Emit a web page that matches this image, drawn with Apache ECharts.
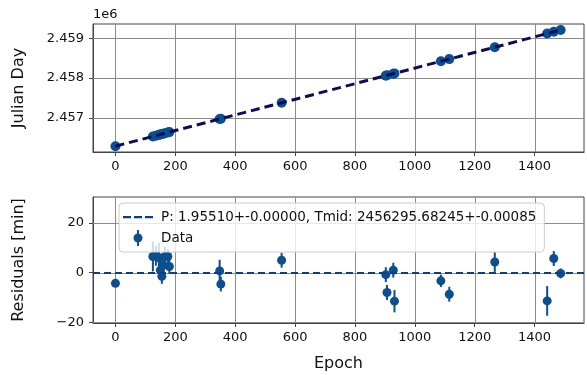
<!DOCTYPE html>
<html><head><meta charset="utf-8">
<script src="https://cdn.jsdelivr.net/npm/echarts@6/dist/echarts.min.js"></script>
<style>html,body{margin:0;padding:0;background:#fff}#c{width:587px;height:375px}</style>
</head><body><div id="c"></div>
<script>
// ---- data ----
const epochs = [0, 125, 135, 145, 150, 155, 160, 165, 175, 180, 348, 352, 555, 903, 907, 928, 932, 1087, 1115, 1267, 1442, 1464, 1487];
const julianDays = [2456295.68, 2456540.07, 2456559.62, 2456579.17, 2456588.95, 2456598.72, 2456608.50, 2456618.27, 2456637.82, 2456647.60,
  2456976.05, 2456983.88, 2457380.76, 2458061.14, 2458068.96, 2458110.01, 2458117.83, 2458420.87, 2458475.62, 2458772.79,
  2459114.93, 2459157.95, 2459202.91];
const residuals = [-4.3, 6.5, 6.8, 6.0, 1.0, -1.5, 3.0, 6.5, 6.5, 2.5, 0.7, -4.6, 5.0, -0.8, -8.0, 1.0, -11.5, -3.3, -8.7, 4.3, -11.4, 5.7, -0.3];
const resErrors = [1.5, 6, 4, 6, 4, 3, 3, 4, 3, 3, 4.5, 3, 3, 3, 3, 3, 4.5, 2.5, 3, 4, 6, 3, 2];
const fitEpochs = [0, 1487];
const fitJD = [2456295.68, 2459202.91];
const xTicks = [0, 200, 400, 600, 800, 1000, 1200, 1400];
const jdTicks = [2457000, 2458000, 2459000];
const resTicks = [-20, 0, 20];
const fitLabel = 'P: 1.95510+-0.00000, Tmid: 2456295.68245+-0.00085';
const dataLabel = 'Data';

const FONT = 'DejaVu Sans';
const MARK = '#0b4f8f';
const ZLINE = '#0a3d8a';
const frame = '#444';
const gridC = '#8c8c8c';
const GRIDS = [
  {left: 93, top: 24, width: 491, height: 128},
  {left: 93, top: 197, width: 491, height: 126}
];
const X_RANGE = [-75, 1565];
const Y_RANGES = [[2456150, 2459354], [-20.3, 30.5]];

function xAxisCfg(gi) {
  return {
    type: 'value', gridIndex: gi, min: X_RANGE[0], max: X_RANGE[1],
    axisLine: {show: true, onZero: false, lineStyle: {color: frame}},
    axisTick: {show: true, length: 4, lineStyle: {color: frame}, customValues: xTicks},
    axisLabel: {color: '#111', fontFamily: FONT, fontSize: 13, margin: 8, customValues: xTicks,
      formatter: v => String(v)},
    splitLine: {show: false}
  };
}
const titleText = {id: 'offset', type: 'text', left: 93, top: 8,
  style: {text: '1e6', fontFamily: FONT, fontSize: 13, fill: '#111'}};

const chart = echarts.init(document.getElementById('c'), null, {renderer: 'canvas'});
const option = {
  animation: false,
  textStyle: {fontFamily: FONT},
  grid: GRIDS.map(g => Object.assign({show: true, borderColor: frame, borderWidth: 1, backgroundColor: 'transparent'}, g)),
  xAxis: [
    xAxisCfg(0),
    Object.assign(xAxisCfg(1), {name: 'Epoch', nameLocation: 'middle', nameGap: 33,
      nameTextStyle: {fontFamily: FONT, fontSize: 16, color: '#111'}})
  ],
  yAxis: [
    {
      type: 'value', gridIndex: 0, min: Y_RANGES[0][0], max: Y_RANGES[0][1],
      name: 'Julian Day', nameLocation: 'middle', nameGap: 66, nameRotate: 90,
      nameTextStyle: {fontFamily: FONT, fontSize: 16, color: '#111'},
      axisLine: {show: true, onZero: false, lineStyle: {color: frame}},
      axisTick: {show: true, length: 4, lineStyle: {color: frame}, customValues: jdTicks},
      axisLabel: {color: '#111', fontFamily: FONT, fontSize: 13, margin: 9, customValues: jdTicks,
        formatter: v => (v / 1e6).toFixed(3)},
      splitLine: {show: false}
    },
    {
      type: 'value', gridIndex: 1, min: Y_RANGES[1][0], max: Y_RANGES[1][1],
      name: 'Residuals [min]', nameLocation: 'middle', nameGap: 66, nameRotate: 90,
      nameTextStyle: {fontFamily: FONT, fontSize: 16, color: '#111'},
      axisLine: {show: true, onZero: false, lineStyle: {color: frame}},
      axisTick: {show: true, length: 4, lineStyle: {color: frame}, customValues: resTicks},
      axisLabel: {color: '#111', fontFamily: FONT, fontSize: 13, margin: 9, customValues: resTicks,
        formatter: v => (v < 0 ? '\u2212' + Math.abs(v) : String(v))},
      splitLine: {show: false}
    }
  ],
  graphic: [titleText],
  legend: {
    left: 119, top: 203, orient: 'vertical', z: 20,
    backgroundColor: 'rgba(255,255,255,0.8)', borderColor: '#cccccc', borderWidth: 1, borderRadius: 4,
    padding: [6, 8, 6, 4], itemGap: 5, itemWidth: 30, itemHeight: 16,
    textStyle: {fontFamily: FONT, fontSize: 13.5, color: '#111', padding: [0, 0, 0, 3]},
    data: [
      {name: fitLabel,
        icon: 'path://M0,0L0.01,0L0.01,0.01Z M29.99,16L30,16L30,15.99Z M0,7h8v2.2h-8z M11,7h8v2.2h-8z M22,7h8v2.2h-8z',
        itemStyle: {color: ZLINE}},
      {name: dataLabel,
        icon: 'path://M0,8L0.01,8L0.01,8.01Z M29.99,8L30,8L30,8.01Z M14,0h2v16h-2z M10.5,8A4.5,4.5 0 1,1 19.5,8A4.5,4.5 0 1,1 10.5,8Z',
        itemStyle: {color: MARK}}
    ]
  },
  series: [
    {
      type: 'scatter', xAxisIndex: 0, yAxisIndex: 0, symbolSize: 10, z: 2,
      itemStyle: {color: MARK, opacity: 1},
      data: epochs.map((e, i) => [e, julianDays[i]])
    },
    {
      type: 'line', xAxisIndex: 0, yAxisIndex: 0, symbol: 'none', z: 3,
      lineStyle: {color: '#0c0c5c', width: 3, type: [9, 5]},
      data: fitEpochs.map((e, i) => [e, fitJD[i]])
    },
    {
      name: fitLabel, type: 'line', xAxisIndex: 1, yAxisIndex: 1, symbol: 'none', z: 2,
      lineStyle: {color: ZLINE, width: 2, type: [7, 4]},
      itemStyle: {color: ZLINE},
      data: [],
      markLine: {silent: true, symbol: 'none', label: {show: false},
        lineStyle: {color: ZLINE, width: 2, type: [7, 4]},
        data: [{yAxis: 0}]}
    },
    {
      name: dataLabel, type: 'custom', xAxisIndex: 1, yAxisIndex: 1, z: 3,
      itemStyle: {color: MARK},
      data: epochs.map((e, i) => [e, residuals[i], resErrors[i]]),
      renderItem: function (params, api) {
        const x = api.value(0), y = api.value(1), err = api.value(2);
        const p = api.coord([x, y]);
        const top = api.coord([x, y + err]);
        const bot = api.coord([x, y - err]);
        return {
          type: 'group',
          children: [
            {type: 'line', shape: {x1: p[0], y1: top[1], x2: p[0], y2: bot[1]},
              style: {stroke: MARK, lineWidth: 2}},
            {type: 'circle', shape: {cx: p[0], cy: p[1], r: 4.5}, style: {fill: MARK}}
          ]
        };
      }
    }
  ]
};
chart.setOption(option);

// grid lines, positioned through the chart's own axis scales
function toPx(gi, v, isX) {
  let px = null;
  try {
    const r = chart.convertToPixel({xAxisIndex: gi, yAxisIndex: gi}, [isX ? v : X_RANGE[0], isX ? Y_RANGES[gi][0] : v]);
    if (r && isFinite(r[isX ? 0 : 1])) px = r[isX ? 0 : 1];
  } catch (e) { px = null; }
  if (px === null) {
    const g = GRIDS[gi];
    px = isX ? g.left + (v - X_RANGE[0]) / (X_RANGE[1] - X_RANGE[0]) * g.width
             : g.top + g.height - (v - Y_RANGES[gi][0]) / (Y_RANGES[gi][1] - Y_RANGES[gi][0]) * g.height;
  }
  return Math.round(px) + 0.5;
}
const yTickSets = [jdTicks, resTicks];
const lines = [];
GRIDS.forEach((g, gi) => {
  xTicks.forEach(v => {
    const px = toPx(gi, v, true);
    lines.push({type: 'line', z: 1, silent: true,
      shape: {x1: px, y1: g.top, x2: px, y2: g.top + g.height},
      style: {stroke: gridC, lineWidth: 1}});
  });
  yTickSets[gi].forEach(v => {
    const py = toPx(gi, v, false);
    lines.push({type: 'line', z: 1, silent: true,
      shape: {x1: g.left, y1: py, x2: g.left + g.width, y2: py},
      style: {stroke: gridC, lineWidth: 1}});
  });
});
chart.setOption({graphic: [titleText].concat(lines)});
</script>
</body></html>
